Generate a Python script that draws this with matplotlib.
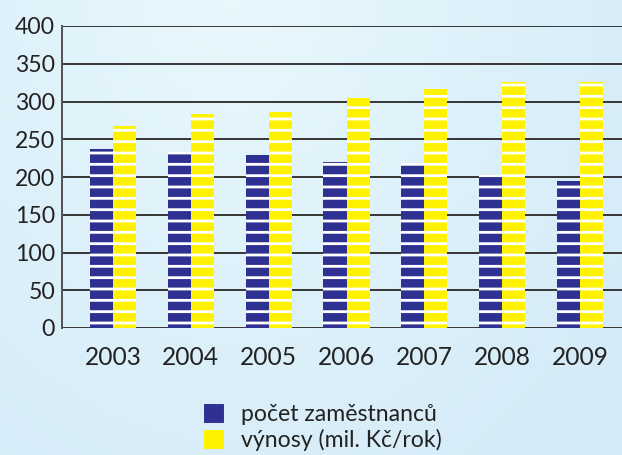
"""Počet zaměstnanců a výnosy 2003-2009 — striped bar chart."""

import numpy as np
import matplotlib
matplotlib.use("Agg")
import matplotlib.pyplot as plt

years = ["2003", "2004", "2005", "2006", "2007", "2008", "2009"]
zamestnanci = [237, 233, 229, 220, 219, 202, 195]
vynosy = [268, 284, 286, 305, 316, 326, 326]
yticks = [0, 50, 100, 150, 200, 250, 300, 350, 400]

DPI = 68
PT = 72 / DPI  # points per pixel

plt.rcParams["font.family"] = ["Lato", "DejaVu Sans"]
plt.rcParams["hatch.linewidth"] = 2.8 * PT

fig = plt.figure(figsize=(622 / DPI, 455 / DPI), dpi=DPI)

# light blue gradient background
bg = fig.add_axes([0, 0, 1, 1], zorder=-5)
gx, gy = np.meshgrid(np.linspace(-1, 1, 200), np.linspace(0, 1, 150))
r = np.sqrt((gx + 0.25) ** 2 + (gy * 1.2) ** 2)
c0 = np.array([0.91, 0.97, 0.99])
c1 = np.array([0.83, 0.92, 0.97])
t = np.clip(r / 1.6, 0, 1)[..., None]
bg.imshow(c0 * (1 - t) + c1 * t, aspect="auto", extent=[0, 1, 0, 1])
bg.axis("off")

ax = fig.add_axes([62 / 622, 1 - 328 / 455, 560 / 622, 302 / 455])
ax.patch.set_alpha(0)

x = np.arange(len(years))
w = 0.296
ax.bar(x - w / 2, zamestnanci, w, color="#2e3192", edgecolor="white",
       linewidth=0, hatch="-", zorder=3)
ax.bar(x + w / 2, vynosy, w, color="#fff200", edgecolor="white",
       linewidth=0, hatch="-", zorder=3)

ax.set_ylim(0, 400)
ax.set_xlim(-0.656, 6.54)
ax.set_yticks(yticks)
ax.set_xticks(x)
ax.set_xticklabels(years)
for yv in yticks:
    ax.axhline(yv, color="#3a3a3a", lw=2 * PT, zorder=2)

for s in ["top", "right", "bottom"]:
    ax.spines[s].set_visible(False)
ax.spines["left"].set_color("#555555")
ax.spines["left"].set_linewidth(2 * PT)
ax.tick_params(length=0, colors="#222222")
ax.tick_params(axis="y", pad=7 * PT, labelsize=23 * PT)
ax.tick_params(axis="x", pad=18 * PT, labelsize=24.5 * PT)

h1 = plt.Rectangle((0, 0), 1, 1, color="#2e3192")
h2 = plt.Rectangle((0, 0), 1, 1, color="#fff200")
fig.legend([h1, h2], ["počet zaměstnanců", "výnosy (mil. Kč/rok)"],
           loc="upper left", bbox_to_anchor=(183 / 622, 1 - 383 / 455),
           frameon=False, fontsize=23 * PT, handlelength=0.83,
           handleheight=0.8, handletextpad=0.78, labelspacing=0.18,
           labelcolor="#222222")

fig.savefig("out.png", dpi=DPI)
